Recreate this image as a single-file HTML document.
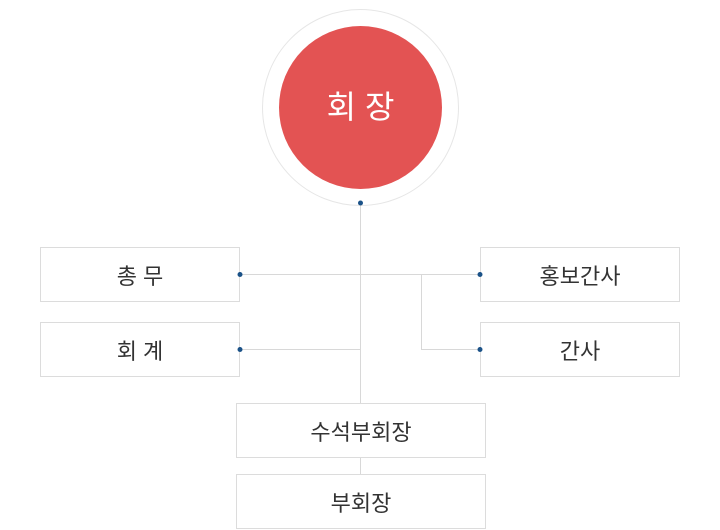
<!DOCTYPE html>
<html><head><meta charset="utf-8"><style>
body{margin:0;width:720px;height:530px;background:#fff;overflow:hidden;position:relative;font-family:"Liberation Sans","Noto Sans CJK KR",sans-serif}
.b{position:absolute;box-sizing:border-box;border:1px solid #dcdcdc;background:#fff;display:flex;align-items:center;justify-content:center;font-size:22px;color:#333}
</style></head><body>
<svg width="720" height="530" style="position:absolute;left:0;top:0">
<circle cx="360.5" cy="107.5" r="98" fill="#fff" stroke="#e6e6e6" stroke-width="1"/>
<circle cx="360.5" cy="107.5" r="81.5" fill="#e35353"/>
<g stroke="#d8d8d8" stroke-width="1" fill="none">
<line x1="360.5" y1="203" x2="360.5" y2="474"/>
<line x1="240" y1="274.5" x2="480" y2="274.5"/>
<polyline points="421.5,274.5 421.5,349.5 480,349.5"/>
<line x1="240" y1="349.5" x2="360.5" y2="349.5"/>
</g>
<text x="360.5" y="118" text-anchor="middle" fill="#fff" font-size="32" font-family="Liberation Sans, Noto Sans CJK KR, sans-serif">회 장</text>
</svg>
<div class="b" style="left:40px;top:247px;width:200px;height:55px">총 무</div>
<div class="b" style="left:40px;top:322px;width:200px;height:55px">회 계</div>
<div class="b" style="left:480px;top:247px;width:200px;height:55px">홍보간사</div>
<div class="b" style="left:480px;top:322px;width:200px;height:55px">간사</div>
<div class="b" style="left:236px;top:403px;width:250px;height:55px">수석부회장</div>
<div class="b" style="left:236px;top:474px;width:250px;height:55px">부회장</div>
<svg width="720" height="530" style="position:absolute;left:0;top:0">
<g fill="#1b5288">
<circle cx="360.5" cy="203" r="2.5"/>
<circle cx="240" cy="274.5" r="2.5"/>
<circle cx="240" cy="349.5" r="2.5"/>
<circle cx="480" cy="274.5" r="2.5"/>
<circle cx="480" cy="349.5" r="2.5"/>
</g></svg>
</body></html>
